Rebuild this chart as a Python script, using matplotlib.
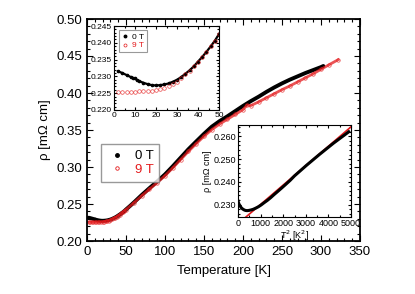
import matplotlib
matplotlib.use('Agg')
import matplotlib.pyplot as plt
import numpy as np
from matplotlib.ticker import MultipleLocator, FormatStrFormatter
from matplotlib.lines import Line2D

plt.rcParams['font.family'] = ['Liberation Sans', 'DejaVu Sans']

# ---- data ----
# low temperature detail (inset), 0 T
T_low0 = [2, 4, 6, 8, 9, 10, 11, 12, 14, 16, 18, 20, 22, 24, 26, 28, 30, 32, 34, 36, 38, 40, 42, 44, 46, 48, 50]
rho_low0 = [0.2315, 0.2310, 0.2304, 0.2298, 0.2295, 0.2294, 0.2289, 0.2286, 0.2281, 0.2277, 0.2274, 0.2273,
            0.2274, 0.2276, 0.2279, 0.2284, 0.2290, 0.2298, 0.2308, 0.2318, 0.2330, 0.2344, 0.2358, 0.2373,
            0.2389, 0.2406, 0.2426]
# low temperature detail (inset), 9 T
T_low9 = [2, 4, 6, 8, 10, 12, 14, 16, 18, 20, 22, 24, 26, 28, 30, 32, 34, 36, 38, 40, 42, 44, 46, 48, 50]
rho_low9 = [0.2254, 0.2254, 0.2255, 0.2255, 0.2255, 0.2256, 0.2256, 0.2257, 0.2258, 0.2260, 0.2263, 0.2266,
            0.2271, 0.2277, 0.2284, 0.2295, 0.2306, 0.2317, 0.2330, 0.2344, 0.2358, 0.2373, 0.2389, 0.2406,
            0.2425]
# higher temperatures, 0 T
T_high0 = [55, 60, 65, 70, 80, 90, 100, 110, 120, 130, 140, 150, 160, 170, 180, 190, 200, 210, 220, 230, 240,
           250, 260, 270, 280, 290, 300, 303]
rho_high0 = [0.2472, 0.2520, 0.2570, 0.2620, 0.2714, 0.2805, 0.2900, 0.3010, 0.3125, 0.3240, 0.3345, 0.3448,
             0.3545, 0.3620, 0.3685, 0.3755, 0.3825, 0.3890, 0.3950, 0.4015, 0.4075, 0.4130, 0.4180, 0.4225,
             0.4270, 0.4310, 0.4350, 0.4365]
# higher temperatures, 9 T
T_high9 = [60, 70, 80, 90, 100, 110, 120, 130, 140, 150, 160, 170, 180, 190, 200, 205, 210, 220, 230, 240,
           250, 260, 270, 280, 290, 300, 310, 322]
rho_high9 = [0.2515, 0.2610, 0.2700, 0.2788, 0.2882, 0.2988, 0.3100, 0.3210, 0.3315, 0.3415, 0.3505,
             0.3580, 0.3645, 0.3710, 0.3775, 0.3835, 0.3830, 0.3880, 0.3935, 0.3990, 0.4045, 0.4095,
             0.4150, 0.4205, 0.4260, 0.4320, 0.4380, 0.4450]
# T^2 fit line (inset 2)
fit_T2 = [0, 5200]
fit_rho = [0.2215, 0.2659]

legend_labels = ['0 T', '9 T']
RED = '#e41a1c'

T0 = np.array(T_low0 + T_high0)
R0 = np.array(rho_low0 + rho_high0)
T9 = np.array(T_low9 + T_high9)
R9 = np.array(rho_low9 + rho_high9)

fig = plt.figure(figsize=(4.15, 2.94), dpi=100)

def style(ax, fs, lw=1.0, major=3.0, minor=1.6):
    ax.tick_params(which='both', direction='in', top=True, right=True, labelsize=fs, width=0.8)
    ax.tick_params(which='major', length=major)
    ax.tick_params(which='minor', length=minor)
    for s in ax.spines.values():
        s.set_linewidth(lw)

# ---- main axes ----
ax = fig.add_axes([87/415, 1-241/294, 273/415, 222/294])
ax.plot(T0, R0, '-', color='black', lw=2.8, solid_capstyle='round')
ax.plot(T9, R9, '-', color=RED, lw=2.0, alpha=0.75)
ax.plot(T9, R9, 'o', mfc='none', mec=RED, ms=2.5, mew=0.5, alpha=0.8)
ax.set_xlim(0, 350)
ax.set_ylim(0.20, 0.50)
ax.xaxis.set_major_locator(MultipleLocator(50))
ax.xaxis.set_minor_locator(MultipleLocator(10))
ax.yaxis.set_major_locator(MultipleLocator(0.05))
ax.yaxis.set_minor_locator(MultipleLocator(0.01))
ax.yaxis.set_major_formatter(FormatStrFormatter('%.2f'))
style(ax, 9.5, lw=1.3, major=4, minor=2)
ax.set_xlabel('Temperature [K]', fontsize=9.5, labelpad=5)
ax.set_ylabel('ρ [mΩ cm]', fontsize=9.5, labelpad=4)

h0 = Line2D([], [], ls='none', marker='o', color='black', ms=2.5)
h9 = Line2D([], [], ls='none', marker='o', mfc='none', mec=RED, ms=2.5, mew=0.6)
leg = ax.legend([h0, h9], legend_labels, loc='lower left', bbox_to_anchor=(0.051, 0.266),
                borderaxespad=0, fontsize=9.5, frameon=True, fancybox=False, edgecolor='#808080',
                borderpad=0.45, labelspacing=0.1, handlelength=1.6, handletextpad=0.5)
leg.get_frame().set_linewidth(1.0)
leg.get_texts()[1].set_color(RED)

# ---- inset 1: low T ----
a1 = fig.add_axes([114/415, 1-110/294, 105/415, 84/294])
a1.plot(T_low0, rho_low0, '-', color='black', lw=1.6)
a1.plot(T_low0, rho_low0, 'o', color='black', ms=1.6)
a1.plot(T_low9, rho_low9, 'o', mfc='none', mec=RED, ms=2.6, mew=0.5, alpha=0.8)
a1.set_xlim(0, 50)
a1.set_ylim(0.220, 0.245)
a1.xaxis.set_major_locator(MultipleLocator(10))
a1.xaxis.set_minor_locator(MultipleLocator(5))
a1.yaxis.set_major_locator(MultipleLocator(0.005))
a1.yaxis.set_minor_locator(MultipleLocator(0.001))
a1.yaxis.set_major_formatter(FormatStrFormatter('%.3f'))
style(a1, 6, lw=0.8, major=2.5, minor=1.2)
a1.tick_params(pad=1.5)
h0s = Line2D([], [], ls='none', marker='o', color='black', ms=1.8)
h9s = Line2D([], [], ls='none', marker='o', mfc='none', mec=RED, ms=2.2, mew=0.5)
leg1 = a1.legend([h0s, h9s], legend_labels, loc='upper left', bbox_to_anchor=(0.048, 0.952),
                 borderaxespad=0, fontsize=6, frameon=True, fancybox=False, edgecolor='#808080',
                 borderpad=0.35, labelspacing=0.1, handlelength=0.8, handletextpad=0.4)
leg1.get_frame().set_linewidth(0.8)
leg1.get_texts()[1].set_color(RED)

# ---- inset 2: rho vs T^2 ----
a2 = fig.add_axes([238/415, 1-217/294, 113/415, 92/294])
a2.plot(fit_T2, fit_rho, '-', color=RED, lw=1.2)
a2.plot(np.array(T_low0 + T_high0[:4]) ** 2, rho_low0 + rho_high0[:4], '-', color='black', lw=2.2)
a2.set_xlim(0, 5000)
a2.set_ylim(0.2245, 0.265)
a2.xaxis.set_major_locator(MultipleLocator(1000))
a2.xaxis.set_minor_locator(MultipleLocator(500))
a2.yaxis.set_major_locator(MultipleLocator(0.010))
a2.yaxis.set_minor_locator(MultipleLocator(0.002))
a2.yaxis.set_major_formatter(FormatStrFormatter('%.3f'))
style(a2, 6.5, lw=0.8, major=2.5, minor=1.2)
a2.tick_params(pad=1.5)
a2.set_xlabel('T$^2$ [K$^2$]', fontsize=6.5, labelpad=0.5)
a2.set_ylabel('ρ [mΩ cm]', fontsize=6.5, labelpad=1)

fig.savefig('out.png', dpi=100)
